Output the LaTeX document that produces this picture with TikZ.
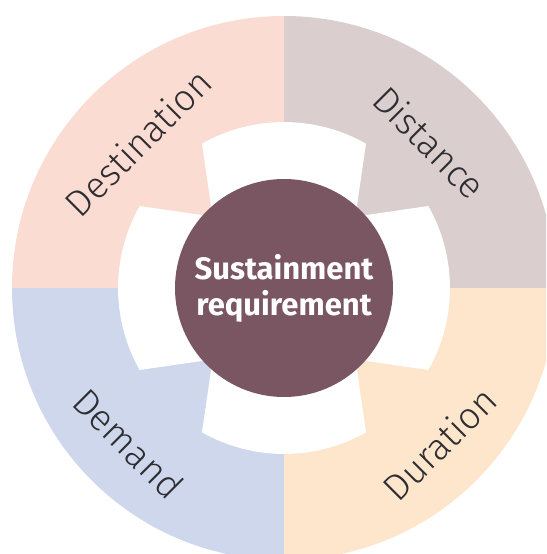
\documentclass[tikz,border=0pt]{standalone}
\usepackage{fontspec}
\setmainfont{Fira Sans}
\newfontfamily\thinfont{Fira Sans Light}
\usetikzlibrary{positioning}
\definecolor{destpink}{RGB}{250,220,210}
\definecolor{distmauve}{RGB}{218,206,206}
\definecolor{dempblue}{RGB}{206,215,236}
\definecolor{durpeach}{RGB}{253,230,204}
\definecolor{hubmaroon}{RGB}{122,85,98}
\definecolor{labelgrey}{RGB}{45,45,50}

\begin{document}
\begin{tikzpicture}[x=1pt, y=1pt,
    factor/.style={font=\thinfont\fontsize{37}{42}\selectfont, text=labelgrey, inner sep=0pt},
    hub/.style={circle, fill=hubmaroon, minimum size=218pt, inner sep=0pt, align=center,
        text=white, font=\bfseries\fontsize{31}{36}\selectfont}]
    \useasboundingbox (-284,-266) rectangle (262,288);
    \clip (-284,-266) rectangle (262,288);

    % Quarter sectors of the outer ring
    \foreach \start/\stop/\col in {90/180/destpink, 0/90/distmauve, 180/270/dempblue, 270/360/durpeach} {
        \fill[\col] (0,0) -- (\start:272) arc (\start:\stop:272) -- cycle;
    }

    % White tabs round the hub
    \foreach \ang in {0,90,180,270} {
        \fill[white, rotate=\ang] (-61,0) -- (-82,144.3) arc (119.6:60.4:166) -- (61,0) -- cycle;
    }

    \node[hub] (req) at (0,0) {Sustainment\\requirement};

    \node[factor, rotate=45] (dest) at (135:206) {Destination};
    \node[factor, rotate=-45] (dist) at (45:206) {Distance};
    \node[factor, rotate=-45] (dem) at (225:220) {Demand};
    \node[factor, rotate=45] (dur) at (-45:220) {Duration};
\end{tikzpicture}
\end{document}
